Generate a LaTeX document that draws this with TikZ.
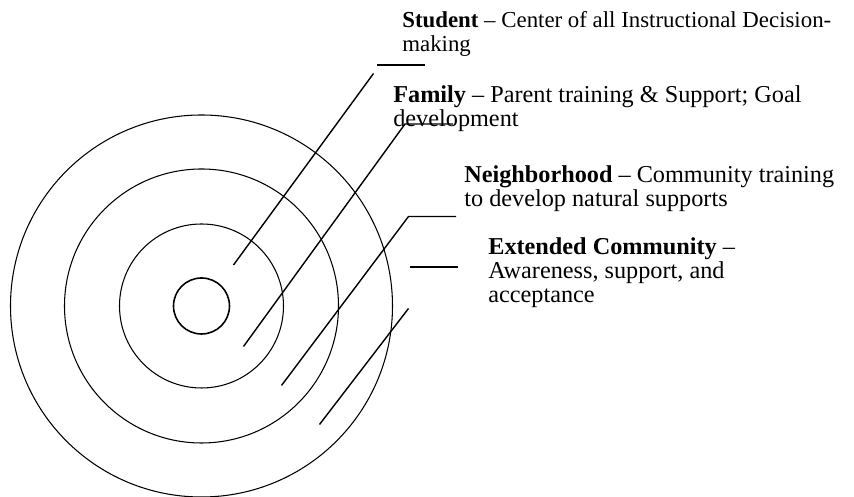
\documentclass[tikz,border=0pt]{standalone}
\usepackage{fontspec}
\setmainfont{Liberation Serif}
\usetikzlibrary{calc}
\usetikzlibrary{positioning}

\begin{document}
\begin{tikzpicture}[
    ring/.style={draw=black, line width=0.6pt},
    callout/.style={draw=black, line width=0.8pt},
    ringtext/.style={anchor=base west, inner sep=0pt, align=left, font=\fontsize{13.8}{13.66}\selectfont}
]
            \useasboundingbox (-4.03,-3.82) rectangle (13.05,6.12);
            % rings, outside in
            \draw[ring]                   ( 0.00, 0.00) circle    (3.82);
            \draw[ring]                   ( 0.00, 0.00) circle    (2.74);
            \draw[ring]                   ( 0.00, 0.00) circle    (1.64);
            \draw[ring, line width=0.9pt] ( 0.00, 0.00) circle    (0.56);

            % texts (placed at the baseline of their last line)
            \node[ringtext, font=\fontsize{13.0}{13.66}\selectfont]
                            (student)      at ( 4.01, 5.08) {\textbf{Student} -- Center of all Instructional Decision-\\making};
            \node[ringtext] (family)       at ( 3.83, 3.58) {\textbf{Family} -- Parent training \& Support; Goal\\development};
            \node[ringtext] (neighborhood) at ( 5.25, 1.98) {\textbf{Neighborhood} -- Community training\\to develop natural supports};
            \node[ringtext] (extended)     at ( 5.73, 0.06) {\textbf{Extended Community} --\\Awareness, support, and\\acceptance};

            % callout ends
            \coordinate (student-in)   at ( 0.64, 0.82);
            \coordinate (student-up)   at ( 3.44, 4.65);
            \coordinate (student-a)    at ( 3.51, 4.82);
            \coordinate (student-b)    at ( 4.47, 4.82);
            \coordinate (family-in)    at ( 0.84,-0.81);
            \coordinate (family-up)    at ( 4.07, 3.64);
            \coordinate (family-b)     at ( 5.03, 3.64);
            \coordinate (neighbor-in)  at ( 1.60,-1.59);
            \coordinate (neighbor-up)  at ( 4.14, 1.79);
            \coordinate (neighbor-b)   at ( 5.09, 1.79);
            \coordinate (extended-in)  at ( 2.36,-2.37);
            \coordinate (extended-up)  at ( 4.14,-0.05);
            \coordinate (extended-a)   at ( 4.17, 0.78);
            \coordinate (extended-b)   at ( 5.13, 0.78);

            % callouts
            \draw[callout] (student-in)  -- (student-up);
            \draw[callout, line width=1.1pt] (student-a) -- (student-b);
            \draw[callout] (family-in)   -- (family-up) -- (family-b);
            \draw[callout] (neighbor-in) -- (neighbor-up) -- (neighbor-b);
            \draw[callout] (extended-in) -- (extended-up);
            \draw[callout, line width=1.1pt] (extended-a) -- (extended-b);
\end{tikzpicture}
\end{document}
